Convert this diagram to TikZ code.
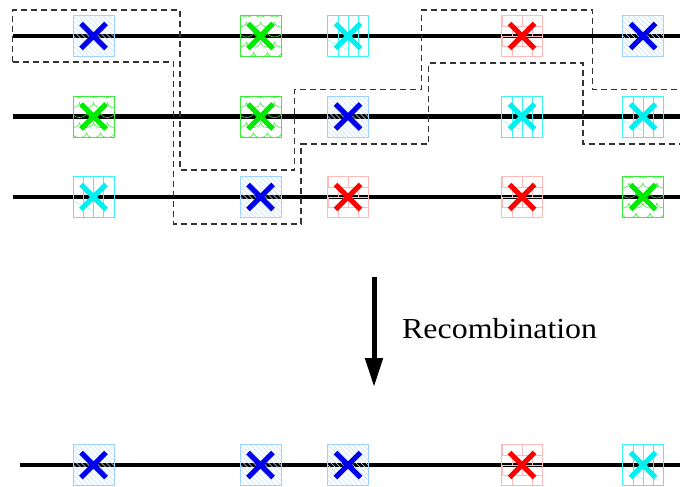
\documentclass[tikz,border=0pt]{standalone}
\usepackage{fontspec}
\setmainfont{Liberation Serif}
\usetikzlibrary{arrows.meta}
\definecolor{mblue}{RGB}{0,0,235}
\definecolor{bbox}{RGB}{160,210,255}
\definecolor{bhatch}{RGB}{190,225,255}
\definecolor{mgreen}{RGB}{0,235,0}
\definecolor{gbox}{RGB}{60,235,60}
\definecolor{mred}{RGB}{255,0,0}
\definecolor{rbox}{RGB}{255,185,185}
\definecolor{mcyan}{RGB}{0,240,240}
\definecolor{cbox}{RGB}{60,245,245}
\newcommand\mkX[1]{\draw[#1,line width=5pt] (-12.5,-12.5)--(12.5,12.5) (-12.5,12.5)--(12.5,-12.5);}
\begin{document}
\begin{tikzpicture}[x=1pt,y=-1pt,
  chrom/.style={line width=4.3pt,black},
  cut/.style={line width=1.3pt,black!80,dash pattern=on 6pt off 4pt},
  mk/.style={draw, minimum size=41pt, inner sep=0pt, line width=0.9pt},
  bluemk/.style={mk, draw=bbox, path picture={
    \begin{scope}[shift={(path picture bounding box.center)}]
      \foreach \k in {-50,-45,...,50} \draw[bhatch, line width=0.6pt] (\k-25,-25) -- (\k+25,25);
      \mkX{mblue}
    \end{scope}}},
  greenmk/.style={mk, draw=gbox, path picture={
    \begin{scope}[shift={(path picture bounding box.center)}]
      \foreach \r in {-2,...,2} {
        \foreach \c in {-3,...,3} {
          \pgfmathsetmacro{\off}{mod(\r+4,2)*7}
          \draw[gbox, line width=0.6pt] (\c*14+\off-7,\r*10-4) arc (180:0:7 and 5);
        }
      }
      \mkX{mgreen}
    \end{scope}}},
  redmk/.style={mk, draw=rbox, path picture={
    \begin{scope}[shift={(path picture bounding box.center)}]
      \foreach \y in {-10,0,10} \draw[rbox, line width=0.7pt] (-22,\y) -- (22,\y);
      \foreach \x in {-20,0,20} {\draw[rbox, line width=0.7pt] (\x,-20) -- (\x,-10); \draw[rbox, line width=0.7pt] (\x,0) -- (\x,10);}
      \foreach \x in {-10,10} {\draw[rbox, line width=0.7pt] (\x,-10) -- (\x,0); \draw[rbox, line width=0.7pt] (\x,10) -- (\x,20);}
      \mkX{mred}
    \end{scope}}},
  cyanmk/.style={mk, draw=cbox, path picture={
    \begin{scope}[shift={(path picture bounding box.center)}]
      \foreach \x in {-10,0,10} \draw[cbox, line width=0.7pt] (\x,-22) -- (\x,22);
      \draw[cbox!60, line width=0.5pt] (-20,4) -- (0,14);
      \mkX{mcyan}
    \end{scope}}},
]
\useasboundingbox (0,0) rectangle (680,487);
% chromosomes
\coordinate (l1s) at (12.7,36);  \coordinate (l1e) at (680,36);
\coordinate (l2s) at (12.7,116.5); \coordinate (l2e) at (680,116.5);
\coordinate (l3s) at (12.7,197); \coordinate (l3e) at (680,197);
\coordinate (l4s) at (19.5,465); \coordinate (l4e) at (680,465);
\draw[chrom] (l1s) -- (l1e);
\draw[chrom] (l2s) -- (l2e);
\draw[chrom] (l3s) -- (l3e);
\draw[chrom] (l4s) -- (l4e);
% row 1
\node[bluemk]  (r1a) at (93.5,36) {};
\node[greenmk] (r1b) at (260.5,36) {};
\node[cyanmk]  (r1c) at (348,36) {};
\node[redmk]   (r1d) at (522,36) {};
\node[bluemk]  (r1e) at (643,36) {};
% row 2
\node[greenmk] (r2a) at (93.5,116.5) {};
\node[greenmk] (r2b) at (260.5,116.5) {};
\node[bluemk]  (r2c) at (348,116.5) {};
\node[cyanmk]  (r2d) at (522,116.5) {};
\node[cyanmk]  (r2e) at (643,116.5) {};
% row 3
\node[cyanmk]  (r3a) at (93.5,197) {};
\node[bluemk]  (r3b) at (260.5,197) {};
\node[redmk]   (r3c) at (348,197) {};
\node[redmk]   (r3d) at (522,197) {};
\node[greenmk] (r3e) at (643,197) {};
% result
\node[bluemk]  (fa) at (93.5,465) {};
\node[bluemk]  (fb) at (260.5,465) {};
\node[bluemk]  (fc) at (348,465) {};
\node[redmk]   (fd) at (522,465) {};
\node[cyanmk]  (fe) at (643,465) {};
% crossover outlines
\draw[cut] (12.7,62) -- (12.7,10) -- (180,10) -- (180,170) -- (294.3,170) -- (294.3,89.5)
  -- (421.7,89.5) -- (421.7,10) -- (592.3,10) -- (592.3,89.5) -- (680,89.5);
\draw[cut] (12.7,62) -- (173.7,62) -- (173.7,224) -- (301,224) -- (301,144)
  -- (428.3,144) -- (428.3,63) -- (583,63) -- (583,144) -- (680,144);
% arrow
\coordinate (as) at (374,277);
\coordinate (ae) at (374,387);
\draw[line width=5pt,-{Triangle[length=29pt,width=17pt]}] (as) -- (ae);
\node[anchor=base west, inner sep=0pt] (lab) at (402,338) {\fontsize{29}{34}\selectfont\scalebox{1.10}[1]{Recombination}};
\end{tikzpicture}
\end{document}
